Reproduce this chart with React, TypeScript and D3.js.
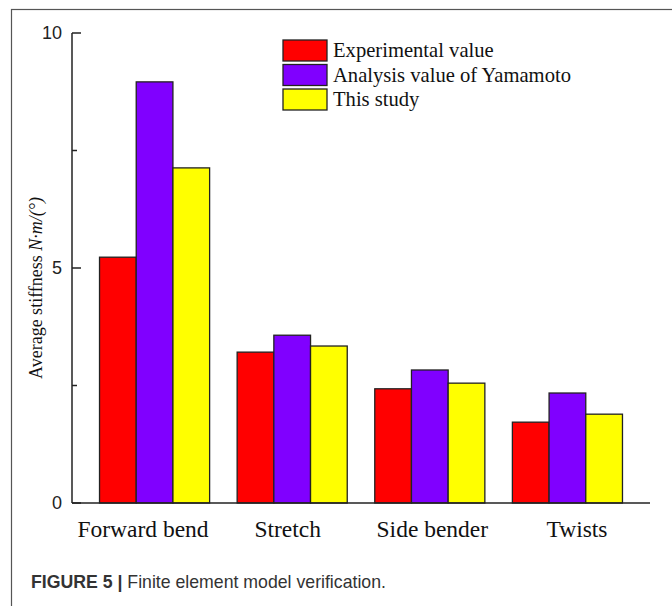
import React from "react";
import * as d3 from "d3";

const categories = ["Forward bend", "Stretch", "Side bender", "Twists"];
const seriesNames = ["Experimental value", "Analysis value of Yamamoto", "This study"];
const experimental = [5.23, 3.21, 2.43, 1.72];
const yamamoto = [8.96, 3.57, 2.83, 2.34];
const thisStudy = [7.13, 3.34, 2.55, 1.89];
const yMajorTicks = [0, 5, 10];
const yMinorTicks = [2.5, 7.5];

const colors = ["#ff0000", "#8000ff", "#ffff00"];

export default function App() {
  const W = 672, H = 606;
  const x0 = 72, x1 = 650, yTop = 33, yBot = 503;
  const series = [experimental, yamamoto, thisStudy];

  const x = d3.scaleBand<string>().domain(categories).range([x0, x1]).paddingInner(0.2).paddingOuter(0.2);
  const xs = d3.scaleBand<number>().domain([0, 1, 2]).range([0, x.bandwidth()]);
  const xLabel = d3.scalePoint<string>().domain(categories).range([x0 + 71, x1 - 73]);
  const y = d3.scaleLinear().domain([0, 10]).range([yBot, yTop]);

  const serif = "'Liberation Serif', 'Times New Roman', serif";
  const sans = "'Liberation Sans', Arial, sans-serif";

  return (
    <svg width={W} height={H} style={{ position: "absolute", left: 0, top: 0, background: "#fff" }}>
      <rect x={11.5} y={9.5} width={700} height={700} fill="none" stroke="#555" strokeWidth={1.2} />
      {/* bars */}
      {categories.map((c, i) => (
        <g key={c}>
          {series.map((s, j) => (
            <rect
              key={j}
              x={(x(c) as number) + (xs(j) as number)}
              y={y(s[i])}
              width={xs.bandwidth()}
              height={y(0) - y(s[i])}
              fill={colors[j]}
              stroke="#222"
              strokeWidth={1.3}
            />
          ))}
        </g>
      ))}
      {/* axes */}
      <line x1={x0} x2={x0} y1={yTop} y2={yBot} stroke="#222" strokeWidth={1.5} />
      <line x1={x0} x2={x1} y1={yBot} y2={yBot} stroke="#222" strokeWidth={1.5} />
      {yMajorTicks.map((t) => (
        <g key={t}>
          <line x1={x0} x2={x0 + 9} y1={y(t)} y2={y(t)} stroke="#222" strokeWidth={1.5} />
          <text x={62} y={y(t)} dy="0.35em" textAnchor="end" fontFamily={sans} fontSize={18} fill="#222">
            {t}
          </text>
        </g>
      ))}
      {yMinorTicks.map((t) => (
        <line key={t} x1={x0} x2={x0 + 5} y1={y(t)} y2={y(t)} stroke="#222" strokeWidth={1.5} />
      ))}
      {categories.map((c) => (
        <text
          key={c}
          x={xLabel(c) as number}
          y={537}
          textAnchor="middle"
          fontFamily={serif}
          fontSize={23.5}
          fill="#111"
        >
          {c}
        </text>
      ))}
      <text
        transform={`translate(42,${288}) rotate(-90)`}
        textAnchor="middle"
        fontFamily={serif}
        fontSize={18}
        fill="#111"
      >
        Average stiffness <tspan fontStyle="italic">N·m/(°)</tspan>
      </text>
      {/* legend */}
      {seriesNames.map((n, j) => (
        <g key={n} transform={`translate(283,${40 + j * 24.5})`}>
          <rect x={0} y={0} width={44} height={21} fill={colors[j]} stroke="#222" strokeWidth={1.3} />
          <text x={50} y={17} fontFamily={serif} fontSize={20.6} fill="#111">
            {n}
          </text>
        </g>
      ))}
      {/* caption */}
      <text x={31} y={588} fontFamily={sans} fontSize={17.7} fill="#333">
        <tspan fontWeight="bold">FIGURE 5 |</tspan> Finite element model verification.
      </text>
    </svg>
  );
}
